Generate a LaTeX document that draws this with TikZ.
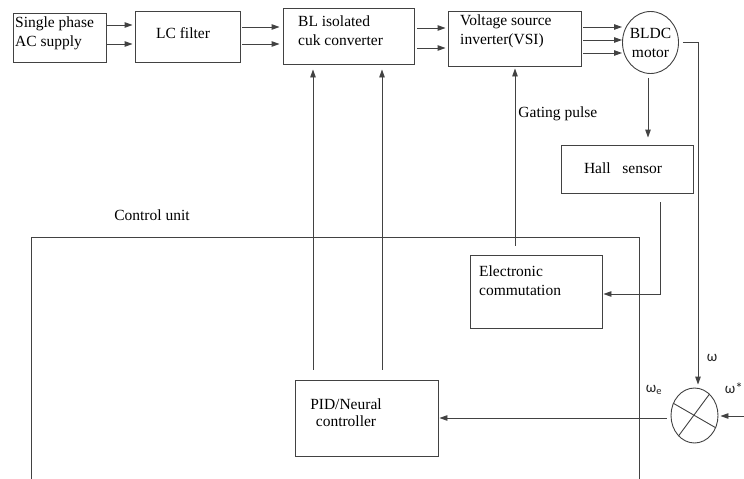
\documentclass[tikz,border=0pt]{standalone}
\usepackage{fontspec}
\setmainfont{Liberation Serif}
\newfontfamily\lblfont{Carlito}
\usetikzlibrary{arrows.meta,shapes.geometric}
\definecolor{lngray}{RGB}{66,66,66}

\begin{document}
\begin{tikzpicture}[x=1pt,y=-1pt,
    blk/.style={draw=lngray, line width=0.9pt, inner sep=0pt},
    txt/.style={font=\fontsize{15.5}{19}\selectfont, inner sep=0pt, align=left},
    arr/.style={draw=lngray, line width=0.9pt, -{Triangle[length=8pt,width=5.5pt]}},
    lnk/.style={draw=lngray, line width=0.9pt},
    wlbl/.style={font=\lblfont\fontsize{15}{18}\selectfont, inner sep=0pt, text=black!85}]
\useasboundingbox (0,0) rectangle (744,479);

% power path
\node[blk, minimum width=93pt, minimum height=49pt] (sup) at (59.5,37.5) {};
\node[txt, anchor=north west] (suptxt) at (15,17) {Single phase\\AC supply};
\node[blk, minimum width=105pt, minimum height=51pt] (lc) at (187.5,36.5) {};
\node[txt] (lctxt) at (183,33) {LC filter};
\node[blk, minimum width=131pt, minimum height=56pt] (cuk) at (348.5,36) {};
\node[txt, anchor=north west] (cuktxt) at (298,16) {BL isolated\\cuk converter};
\node[blk, minimum width=133pt, minimum height=55pt] (vsi) at (514.5,38.5) {};
\node[txt, anchor=north west] (vsitxt) at (460,15) {Voltage source\\inverter(VSI)};
\node[blk, ellipse, minimum width=56pt, minimum height=62pt] (motor) at (650.5,42.5) {};
\node[txt, align=center] (motortxt) at (650.5,42.5) {BLDC\\motor};

\draw[arr, shorten >=2pt] (sup.east |- 0,25) -- (lc.west |- 0,25);
\draw[arr, shorten >=2pt] (sup.east |- 0,44) -- (lc.west |- 0,44);
\draw[arr, shorten <=2pt, shorten >=3pt] (lc.east |- 0,27) -- (cuk.west |- 0,27);
\draw[arr, shorten <=2pt, shorten >=3pt] (lc.east |- 0,44) -- (cuk.west |- 0,44);
\draw[arr, shorten <=3pt, shorten >=2pt] (cuk.east |- 0,28) -- (vsi.west |- 0,28);
\draw[arr, shorten <=3pt, shorten >=2pt] (cuk.east |- 0,48) -- (vsi.west |- 0,48);
\draw[arr, shorten <=2pt] (vsi.east |- 0,27) -- (motor.west |- 0,27);
\draw[arr, shorten <=2pt] (vsi.east |- 0,40) -- (motor.west |- 0,40);
\draw[arr, shorten <=2pt] (vsi.east |- 0,53) -- (motor.west |- 0,53);

% sensing and commutation
\node[blk, minimum width=132pt, minimum height=48pt] (hall) at (627,169) {};
\node[txt] (halltxt) at (623,168) {Hall\ \ \ sensor};
\node[blk, minimum width=132pt, minimum height=73pt] (ec) at (536,291.5) {};
\node[txt, anchor=north west] (ectxt) at (479,266) {Electronic\\commutation};

\draw[arr, shorten <=4pt, shorten >=7pt] (motor.south -| 648,0) -- (hall.north -| 648,0);
\draw[arr, shorten <=9pt, shorten >=1pt] (hall.south -| 660,0) |- (ec.east |- 0,294);
\draw[arr, shorten <=9pt, shorten >=2pt] (ec.north -| 515,0) -- (vsi.south -| 515,0)
  node[txt, pos=0.75, right=3pt] (gatetxt) {Gating pulse};

% control unit
\node[txt] (cutxt) at (152,215) {Control unit};
\draw[lnk] (31,479) |- (639,237) -- (639,479);
\node[blk, minimum width=143pt, minimum height=76pt] (pid) at (366.5,418) {};
\node[txt, align=center, font=\fontsize{15.5}{17}\selectfont] (pidtxt) at (346,413) {PID/Neural\\controller};

\draw[arr, shorten <=10pt, shorten >=5pt] (pid.north -| 313,0) -- (cuk.south -| 313,0);
\draw[arr, shorten <=10pt, shorten >=5pt] (pid.north -| 382,0) -- (cuk.south -| 382,0);

% speed comparison
\node[blk, ellipse, minimum width=47pt, minimum height=55pt] (sum) at (694.5,415.5) {};
\draw[lnk] (sum.150) -- (sum.-30);
\draw[lnk] (sum.55) -- (sum.232);
\coordinate (wref) at (744,416);

\draw[arr, shorten <=4pt, shorten >=3pt] (motor.east) -| ([xshift=3.5pt]sum.north);
\draw[arr, shorten >=2pt] (wref) -- (sum.east |- wref);
\draw[arr, shorten <=4pt, shorten >=1pt] (sum.west |- 0,418) -- (pid.east |- 0,418);

\node[wlbl] (wlab) at (712,358) {ω};
\node[wlbl] (welab) at (654,390) {ω\textsubscript{e}};
\node[wlbl, anchor=east] (wslab) at (743,388) {ω*};
\end{tikzpicture}
\end{document}
